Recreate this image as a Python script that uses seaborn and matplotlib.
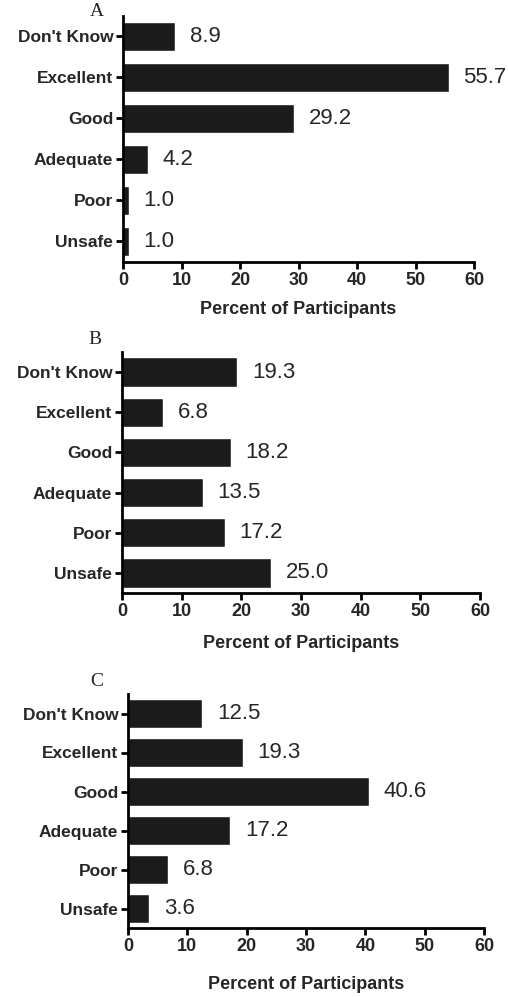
import numpy as np
import pandas as pd
import matplotlib
matplotlib.use("Agg")
import matplotlib.pyplot as plt
import seaborn as sns

categories = ["Don't Know", "Excellent", "Good", "Adequate", "Poor", "Unsafe"]
panel_a = [8.9, 55.7, 29.2, 4.2, 1.0, 1.0]
panel_b = [19.3, 6.8, 18.2, 13.5, 17.2, 25.0]
panel_c = [12.5, 19.3, 40.6, 17.2, 6.8, 3.6]
x_ticks = [0, 10, 20, 30, 40, 50, 60]

sns.set_theme(style="ticks")
plt.rcParams['font.family'] = ['Liberation Sans', 'DejaVu Sans']

W, H = 508, 997
fig = plt.figure(figsize=(W / 100, H / 100), dpi=100)
bar_color = '#1b1b1b'

# pixel boxes: left, top, right, bottom, letter x, letter y, labelpad
boxes = [
    ("A", panel_a, (123, 16, 474, 262, 97, 12, 9)),
    ("B", panel_b, (122, 352, 480, 593, 95, 340, 11)),
    ("C", panel_c, (128, 694, 484, 928, 97, 682, 15)),
]

for letter, vals, (l, t, r, b, lx, ly, lp) in boxes:
    ax = fig.add_axes([l / W, 1 - b / H, (r - l) / W, (b - t) / H])
    df = pd.DataFrame({'cat': categories, 'val': vals})
    sns.barplot(data=df, x='val', y='cat', orient='h', color=bar_color,
                saturation=1, width=0.73, ax=ax)
    ax.set_xlim(0, 60)
    ax.set_ylim(5.5, -0.5)
    ax.set_xticks(x_ticks)
    ax.set_xticklabels([str(v) for v in x_ticks], fontweight='bold', fontsize=13)
    ax.set_yticks(range(len(categories)))
    ax.set_yticklabels(categories, fontweight='bold', fontsize=12.5)
    ax.set_ylabel('')
    ax.set_xlabel('Percent of Participants', fontweight='bold', fontsize=13, labelpad=lp)
    for s in ['top', 'right']:
        ax.spines[s].set_visible(False)
    for s in ['left', 'bottom']:
        ax.spines[s].set_linewidth(2)
        ax.spines[s].set_color('black')
    ax.tick_params(axis='both', width=2, length=5, color='black', pad=2)
    for i, v in enumerate(vals):
        ax.text(v + 2.5, i, f"{v:.1f}", va='center', ha='left', fontsize=16)
    fig.text(lx / W, 1 - ly / H, letter, family='Liberation Serif', fontsize=14,
             ha='center', va='center')

fig.savefig('out.png', dpi=100, facecolor='white')
